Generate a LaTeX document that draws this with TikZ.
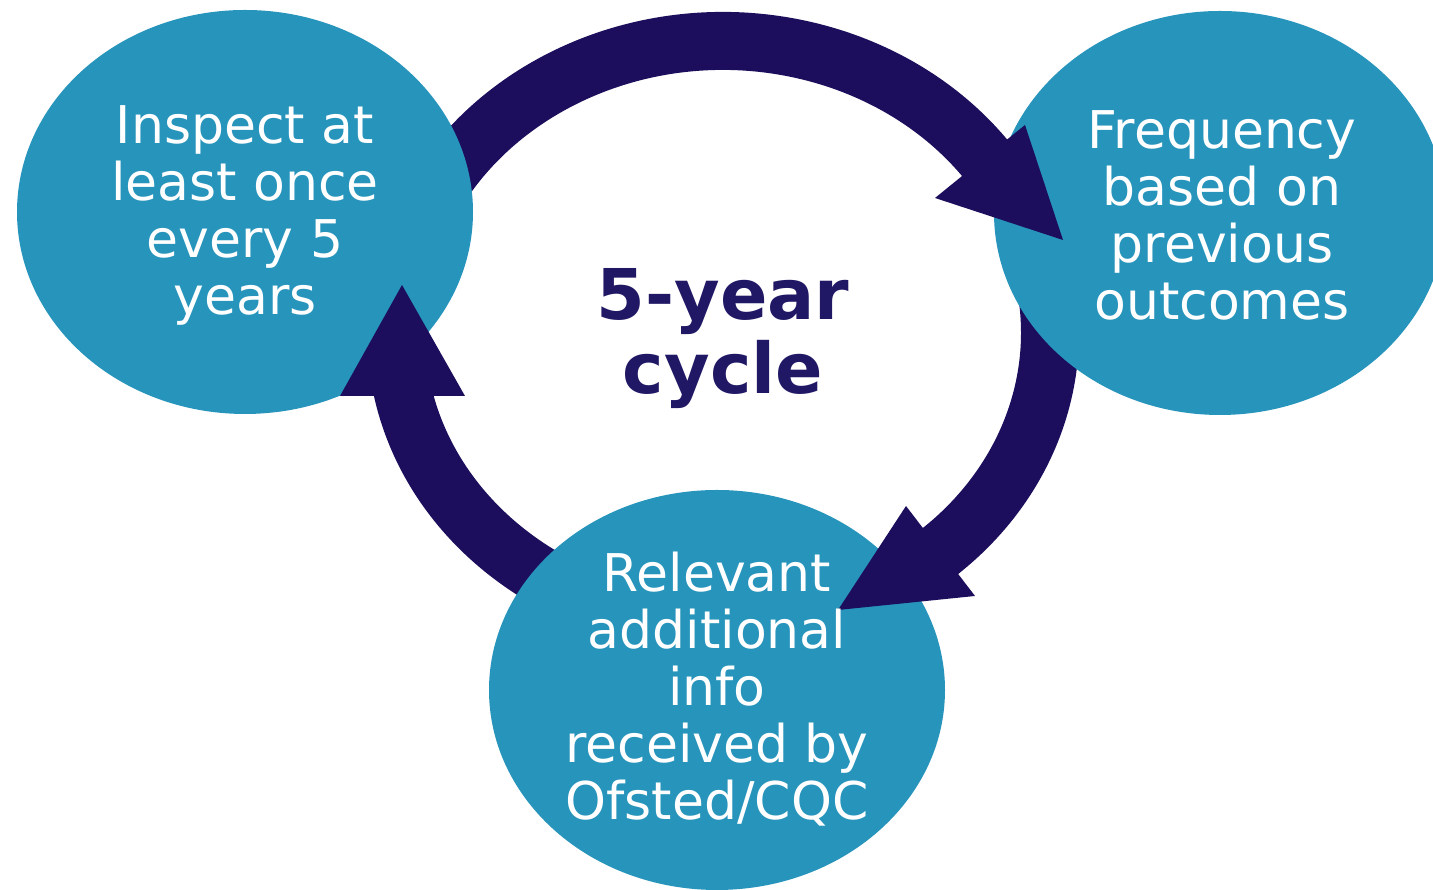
\documentclass[tikz,border=0pt]{standalone}
\usepackage{fontspec}
\newfontfamily\lblfont{DejaVu Sans}
\definecolor{bubblecol}{HTML}{2794BC}
\definecolor{ringcol}{HTML}{1C0E5C}
\definecolor{titlecol}{HTML}{201865}
\begin{document}
\begin{tikzpicture}[x=1pt,y=1pt,
  ringseg/.style={draw=ringcol, line width=58pt, line cap=butt},
  headtri/.style={fill=ringcol},
  bubble/.style={fill=bubblecol},
  bubbletext/.style={text=white, align=center, inner sep=0pt,
    font=\lblfont\fontsize{52}{57}\selectfont},
  titletext/.style={text=titlecol, inner sep=0pt, anchor=base,
    font=\lblfont\bfseries\fontsize{70}{74}\selectfont}]
\useasboundingbox (0,0) rectangle (1433,890);
\fill[white] (0,0) rectangle (1433,890);
% ring shafts (drawn under the bubbles)
\begin{scope}[shift={(723,557)}]
  \draw[ringseg] (165:327pt and 292pt) arc[start angle=165, end angle=36, x radius=327pt, y radius=292pt];
  \draw[ringseg] (20:327pt and 292pt) arc[start angle=20, end angle=-50.5, x radius=327pt, y radius=292pt];
  \draw[ringseg] (-80:327pt and 292pt) arc[start angle=-80, end angle=-169.5, x radius=327pt, y radius=292pt];
\end{scope}
% bubbles
\fill[bubble] (245,678) ellipse [x radius=228pt, y radius=202pt];
\fill[bubble] (1220,677) ellipse [x radius=226pt, y radius=202pt];
\fill[bubble] (717,200) ellipse [x radius=228pt, y radius=200pt];
% arrow heads
\coordinate (tipA) at (1063,650);
\coordinate (tipB) at (838,280);
\coordinate (tipC) at (402,605);
\fill[headtri] (935,692) -- (1025,765) -- (tipA) -- cycle;
\fill[headtri] (906,384) -- (975,294) -- (tipB) -- cycle;
\fill[headtri] (340,494) -- (465,494) -- (tipC) -- cycle;
% texts
\node[bubbletext] (inspect) at (245,675) {Inspect at\\least once\\every 5\\years};
\node[bubbletext] (freq) at (1222,675) {Frequency\\based on\\previous\\outcomes};
\node[bubbletext] (relevant) at (717,201) {Relevant\\additional\\info\\received by\\Ofsted/CQC};
\node[titletext] (cycA) at (723,570) {5-year};
\node[titletext] (cycB) at (723,496) {cycle};
\end{tikzpicture}
\end{document}
